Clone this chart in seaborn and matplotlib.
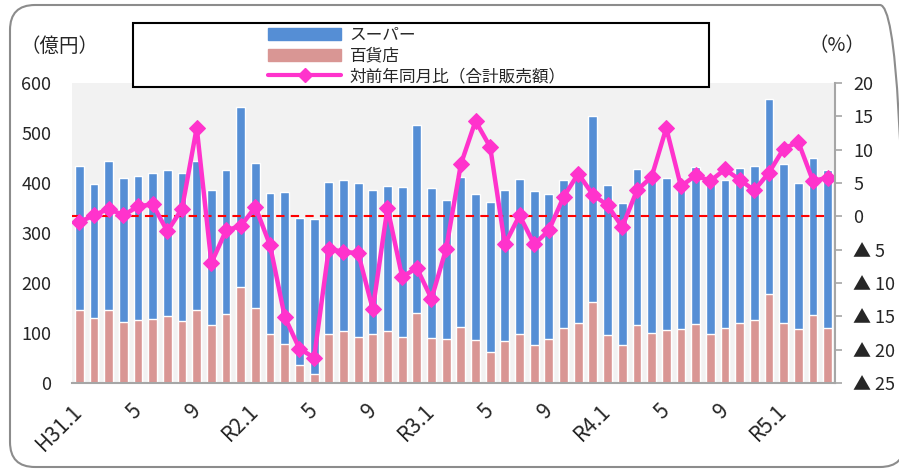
import matplotlib
matplotlib.use("Agg")
import matplotlib.pyplot as plt
import matplotlib.patches as mpatches
import matplotlib.lines as mlines
from matplotlib.transforms import IdentityTransform
import numpy as np
import seaborn as sns

# monthly sales, H31.1 (2019/1) .. R5.4 (2023/4), 億円
tick_labels = ["H31.1", "5", "9", "R2.1", "5", "9", "R3.1", "5", "9",
               "R4.1", "5", "9", "R5.1"]

department = [147, 131, 147, 123, 126, 129, 135, 125, 147, 116, 139, 193,
              151, 99, 79, 37, 19, 98, 104, 92, 99, 105, 92, 141,
              91, 89, 112, 87, 62, 84, 98, 76, 89, 111, 121, 163,
              97, 76, 116, 101, 107, 108, 119, 99, 111, 121, 126, 178,
              121, 109, 136, 111]

supermarket = [288, 267, 298, 287, 289, 292, 291, 295, 297, 270, 288, 360,
               290, 281, 303, 294, 309, 305, 303, 309, 288, 290, 301, 375,
               300, 277, 301, 292, 301, 303, 310, 309, 290, 296, 304, 371,
               300, 284, 312, 309, 304, 294, 314, 309, 296, 309, 309, 390,
               317, 291, 315, 315]

# 対前年同月比（合計販売額）, %
yoy_total = [-0.85, 0.15, 1.15, 0.15, 1.5, 1.8, -2.25, 1.15, 13.3, -7.0, -2.1, -1.45,
             1.4, -4.35, -15.1, -19.85, -21.2, -4.85, -5.35, -5.5, -13.95, 1.3, -9.1, -7.75,
             -12.35, -4.85, 7.8, 14.3, 10.4, -4.2, 0.15, -4.2, -2.1, 2.9, 6.4, 3.25,
             1.65, -1.6, 3.9, 5.9, 13.25, 4.5, 6.15, 5.3, 7.05, 5.5, 3.9, 6.55,
             10.15, 11.15, 5.3, 5.8]

BLUE = "#558ED5"
PINK = "#D99694"
MAGENTA = "#FF33CC"
AXIS_GRAY = "#A6A6A6"

sns.set_style("white")
plt.rcParams["font.family"] = ["Noto Sans CJK JP", "DejaVu Sans"]

months = np.arange(len(department))
total = np.array(supermarket) + np.array(department)

fig = plt.figure(figsize=(8.99, 4.70), dpi=100)
ax = fig.add_axes([72 / 899, 87 / 470, 763 / 899, 300 / 470])
ax.set_facecolor("#F2F2F2")

# stacked bars: total in blue, department store drawn over the bottom part
sns.barplot(x=months, y=total, color=BLUE, saturation=1, width=0.6,
            errorbar=None, ax=ax)
sns.barplot(x=months, y=department, color=PINK, saturation=1, width=0.6,
            errorbar=None, ax=ax)

ax.set_ylim(0, 600)
ax.set_yticks(range(0, 601, 100))
ax.set_xlabel("")
ax.set_ylabel("")
ax.tick_params(axis="y", length=0, pad=15, labelsize=13)
for side in ["left", "top", "right"]:
    ax.spines[side].set_visible(False)
ax.spines["bottom"].set_color(AXIS_GRAY)
ax.spines["bottom"].set_linewidth(1.5)

# year-on-year line on the right axis
ax2 = ax.twinx()
ax2.axhline(0, xmax=0.99, color="red", linestyle=(0, (4, 3)), linewidth=1.5)
sns.lineplot(x=months, y=yoy_total, ax=ax2, color=MAGENTA, linewidth=3.2,
             marker="D", markersize=8, markeredgecolor=MAGENTA)
ax2.set_ylim(-25, 20)
pct_ticks = list(range(-25, 21, 5))
ax2.set_yticks(pct_ticks)
ax2.set_yticklabels([f"▲ {-t}" if t < 0 else str(t) for t in pct_ticks])
ax2.set_ylabel("")
ax2.tick_params(axis="y", length=5, color=AXIS_GRAY, width=1.2, pad=8, labelsize=13)
for side in ["left", "top", "bottom"]:
    ax2.spines[side].set_visible(False)
ax2.spines["right"].set_color(AXIS_GRAY)
ax2.spines["right"].set_linewidth(1.5)

ax.set_xlim(-0.5, len(months) - 0.5)
ax.set_xticks(range(0, len(months), 4))
ax.set_xticklabels(tick_labels, rotation=45, ha="right", va="center",
                   rotation_mode="anchor", fontsize=15)
ax.set_xticks(np.arange(-0.5, len(months), 1), minor=True)
ax.tick_params(axis="x", which="major", length=0, pad=18)
ax.tick_params(axis="x", which="minor", length=5, color=AXIS_GRAY, width=1.2)

# unit labels
fig.text(20 / 899, 1 - 46 / 470, "（億円）", fontsize=14, va="center", ha="left")
fig.text(808 / 899, 1 - 46 / 470, "（%）", fontsize=14, va="center", ha="left")

# legend box
legend_box = mpatches.Rectangle((133, 383), 576, 64, transform=IdentityTransform(),
                                facecolor="white", edgecolor="black",
                                linewidth=1.5, zorder=5)
fig.add_artist(legend_box)
handles = [mpatches.Patch(color=BLUE), mpatches.Patch(color=PINK),
           mlines.Line2D([], [], color=MAGENTA, linewidth=3, marker="D",
                         markersize=7)]
labels = ["スーパー", "百貨店", "対前年同月比（合計販売額）"]
leg = fig.legend(handles, labels, loc="upper left",
                 bbox_to_anchor=(268 / 899, 1 - 27 / 470), frameon=False,
                 fontsize=12, handlelength=4.4, handletextpad=0.5,
                 labelspacing=0.22, borderaxespad=0, borderpad=0)
leg.set_zorder(6)

# rounded outer frame
frame = mpatches.FancyBboxPatch((10, 3), 895, 462,
                                boxstyle="round,pad=0,rounding_size=25",
                                transform=IdentityTransform(), fill=False,
                                edgecolor="#8C8C8C", linewidth=1.5, zorder=0)
fig.add_artist(frame)

fig.savefig("out.png", dpi=100)
